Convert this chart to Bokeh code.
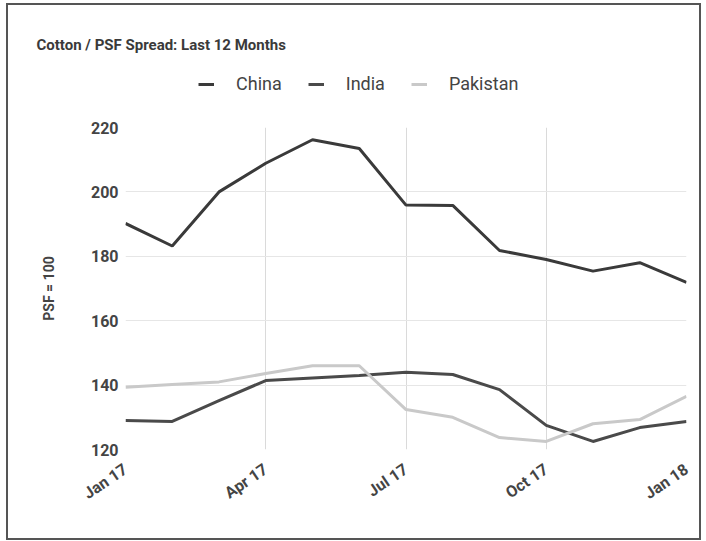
from bokeh.plotting import figure
from bokeh.models import Range1d, FixedTicker, Legend, LegendItem
from bokeh.layouts import column
from bokeh.embed import file_html
from bokeh.resources import INLINE

months = list(range(13))
tick_positions = [0, 3, 6, 9, 12]
tick_labels = ["Jan 17", "Apr 17", "Jul 17", "Oct 17", "Jan 18"]
china = [190.2, 183.2, 200.0, 208.9, 216.2, 213.5, 195.9, 195.8, 181.8, 179.0, 175.4, 178.0, 171.9]
india = [129.0, 128.7, 135.2, 141.4, 142.2, 143.0, 144.0, 143.3, 138.6, 127.5, 122.5, 126.8, 128.7]
pakistan = [139.3, 140.2, 141.0, 143.6, 146.0, 146.0, 132.4, 130.0, 123.7, 122.5, 128.0, 129.3, 136.5]
series_names = ["China", "India", "Pakistan"]
series_colors = ["#3a3a3a", "#4a4a4a", "#c9c9c9"]
series_values = [china, india, pakistan]

# header figure: title + legend
h = figure(width=691, height=112, output_backend="svg", toolbar_location=None,
           x_range=Range1d(0, 12), y_range=Range1d(0, 1),
           x_axis_type=None, y_axis_type=None,
           min_border_left=0, min_border_right=0, min_border_top=48, min_border_bottom=0)
h.grid.visible = False
h.outline_line_color = None
h.title.text = "Cotton / PSF Spread: Last 12 Months"
h.title.align = "left"
h.title.offset = -89
h.title.standoff = 0
h.title.text_font = "Roboto"
h.title.text_font_size = "15px"
h.title.text_font_style = "bold"
h.title.text_color = "#3a3a3a"

hr = []
for vals, col in zip(series_values, series_colors):
    hr.append(h.line(months, vals, line_color=col, line_width=3))

legend = Legend(items=[LegendItem(label=n, renderers=[r]) for n, r in zip(series_names, hr)],
                orientation="horizontal", location=(73, 23), border_line_color=None,
                label_text_font="Roboto", label_text_font_size="18px", label_text_color="#444444",
                glyph_width=16, glyph_height=10, label_standoff=22, spacing=26, padding=4, margin=0,
                background_fill_alpha=0)
h.add_layout(legend)

# main chart
p = figure(width=691, height=421, output_backend="svg", toolbar_location=None,
           x_range=Range1d(0, 12), y_range=Range1d(120, 220),
           min_border_left=117, min_border_right=13, min_border_top=10, min_border_bottom=89)

for vals, col in zip(series_values, series_colors):
    p.line(months, vals, line_color=col, line_width=3)

p.xaxis.ticker = FixedTicker(ticks=tick_positions)
p.xaxis.major_label_overrides = {t: l for t, l in zip(tick_positions, tick_labels)}
p.xaxis.major_label_orientation = 0.6
p.xaxis.major_label_standoff = 18
p.yaxis.ticker = FixedTicker(ticks=[120, 140, 160, 180, 200, 220])
p.yaxis.major_label_standoff = 7
p.yaxis.axis_label = "PSF = 100"
for ax in [p.xaxis, p.yaxis]:
    ax.axis_line_color = None
    ax.major_tick_line_color = None
    ax.major_tick_out = 0
    ax.minor_tick_line_color = None
    ax.minor_tick_out = 0
    ax.major_label_text_font = "Roboto"
    ax.major_label_text_font_size = "16px"
    ax.major_label_text_font_style = "bold"
    ax.major_label_text_color = "#444444"
p.yaxis.axis_label_text_font = "Roboto"
p.yaxis.axis_label_text_font_size = "14px"
p.yaxis.axis_label_text_font_style = "bold"
p.yaxis.axis_label_text_color = "#444444"
p.yaxis.axis_label_standoff = 31
p.xgrid.grid_line_color = "#dadada"
p.ygrid.grid_line_color = "#e6e6e6"
p.outline_line_color = None

layout = column(h, p, spacing=0)
layout.styles = {"border": "2px solid #555555", "margin": "3px 0 0 6px"}

open("out.html", "w").write(file_html(layout, INLINE))
